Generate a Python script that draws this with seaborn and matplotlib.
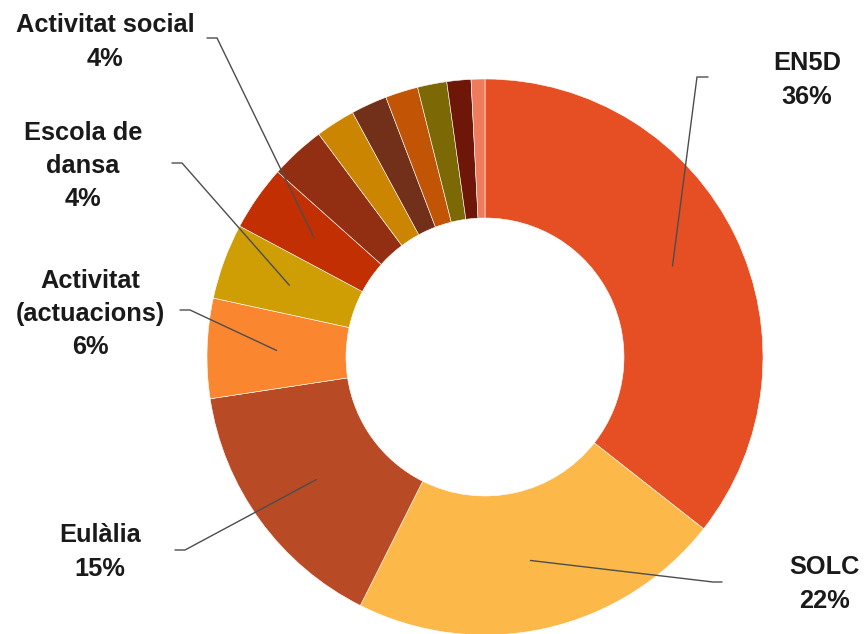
import numpy as np
import matplotlib
matplotlib.use("Agg")
import matplotlib.pyplot as plt
import seaborn as sns

# ---- data (clockwise from 12 o'clock) ----
categories = ["EN5D", "SOLC", "Eulàlia", "Activitat\n(actuacions)", "Escola de\ndansa",
              "Activitat social", "Altres 1", "Altres 2", "Altres 3", "Altres 4",
              "Altres 5", "Altres 6", "Altres 7"]
values = [35.6, 21.8, 15.2, 5.8, 4.4, 3.8, 3.2, 2.3, 2.1, 1.9, 1.7, 1.4, 0.8]
labeled = [True, True, True, True, True, True, False, False, False, False, False, False, False]
colors = ["#E64E24", "#FDB84A", "#B84B25", "#FB8630", "#CF9E05", "#C22F03",
          "#922F13", "#CC8500", "#72301A", "#C25505", "#7D6806", "#6E1709", "#EE7B5C"]

sns.set_theme(style="white")
plt.rcParams["font.family"] = ["Liberation Sans", "DejaVu Sans"]

W, H = 865, 634
fig = plt.figure(figsize=(W / 100, H / 100), dpi=100)
ax = fig.add_axes([0, 0, 1, 1])

cx, cy, R = 485, H - 357, 278
wedges, _ = ax.pie(values, colors=colors, startangle=90, counterclock=False,
                   center=(cx, cy), radius=R,
                   wedgeprops=dict(width=R * 0.5, edgecolor="white", linewidth=0.4))
ax.set_xlim(0, W)
ax.set_ylim(0, H)
ax.set_aspect("equal")
ax.set_axis_off()

# label layout (pixel coords, y down): text block centre, elbow start, elbow end
layout = {
    0: ((807, 80), (708, 77), (697, 77)),
    1: ((825, 584), (722, 582), (713, 582)),
    2: ((100, 552), (175, 550), (185, 550)),
    3: ((90, 314), (180, 310), (190, 310)),
    4: ((83, 166), (172, 163), (182, 163)),
    5: ((105, 42), (207, 38), (217, 38)),
}
step = 33.5
for i, w in enumerate(wedges):
    if not labeled[i]:
        continue
    (tx, ty), (e1x, e1y), (e2x, e2y) = layout[i]
    mid = np.deg2rad((w.theta1 + w.theta2) / 2)
    px = cx + 0.75 * R * np.cos(mid)
    py = cy + 0.75 * R * np.sin(mid)
    ax.plot([e1x, e2x, px], [H - e1y, H - e2y, py], color="#4d4d4d", lw=1.0,
            solid_joinstyle="miter")
    lines = categories[i].split("\n") + [f"{round(values[i])}%"]
    n = len(lines)
    for k, line in enumerate(lines):
        yy = ty + (k - (n - 1) / 2) * step
        ax.text(tx, H - yy, line, ha="center", va="center", fontsize=18.3,
                fontweight="bold", color="#1a1a1a")

fig.savefig("out.png", dpi=100)
